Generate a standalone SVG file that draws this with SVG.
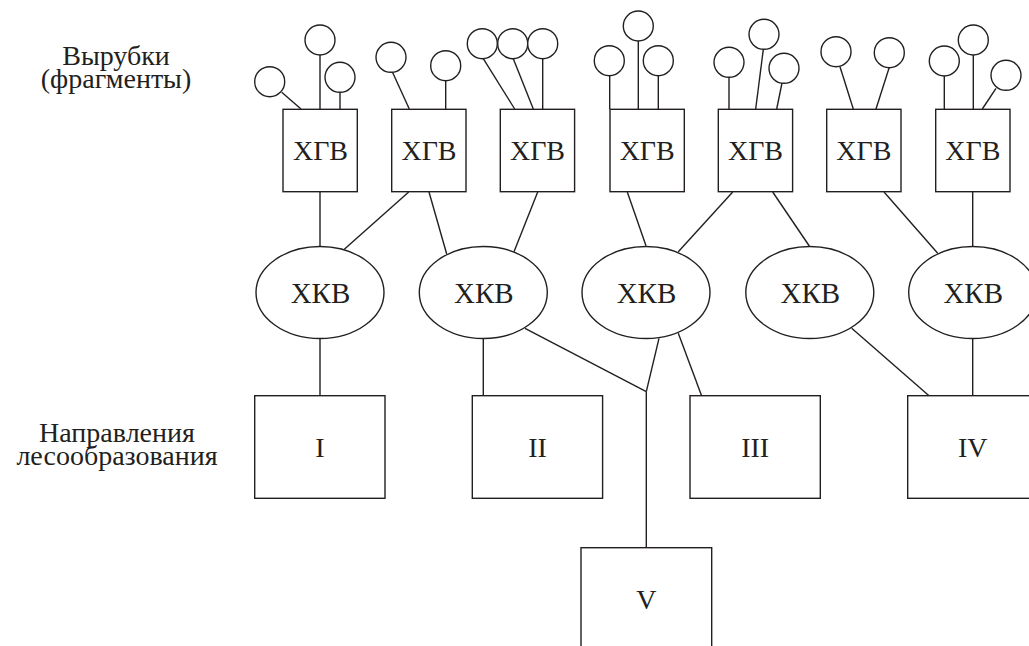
<svg xmlns="http://www.w3.org/2000/svg" width="1029" height="646" viewBox="0 0 1029 646">
<style>
.s{fill:#fff;stroke:#231f20;stroke-width:1.4}
.c line{stroke:#231f20;stroke-width:1.4}
text{font-family:"Liberation Serif","Times New Roman","DejaVu Serif",serif;fill:#231f20;text-anchor:middle}
.t{font-size:28px}
.k{font-size:29px}
.r{font-size:28px}
.l{font-size:28px}
</style>
<rect width="1029" height="646" fill="#fff"/>
<g class="c" id="connectors">
<line x1="281.7" y1="92.3" x2="301" y2="109"/>
<line x1="320" y1="55" x2="320" y2="109"/>
<line x1="340" y1="92.3" x2="340" y2="109"/>
<line x1="392.3" y1="71.7" x2="409.3" y2="109"/>
<line x1="445.7" y1="80.7" x2="445.7" y2="109"/>
<line x1="483.3" y1="58.7" x2="514.7" y2="109"/>
<line x1="513.3" y1="58.7" x2="533.3" y2="109"/>
<line x1="542.7" y1="58.7" x2="542.7" y2="109"/>
<line x1="609.7" y1="75.7" x2="609.7" y2="109"/>
<line x1="638.3" y1="41" x2="638.3" y2="109"/>
<line x1="658.3" y1="75.7" x2="658.3" y2="109"/>
<line x1="729" y1="77.3" x2="729" y2="109"/>
<line x1="763.3" y1="49.3" x2="755.7" y2="109"/>
<line x1="782" y1="83" x2="776.7" y2="109"/>
<line x1="840" y1="66.7" x2="853.3" y2="109"/>
<line x1="889.3" y1="67.3" x2="876" y2="109"/>
<line x1="944.3" y1="76" x2="944.3" y2="109"/>
<line x1="973.3" y1="55" x2="973.3" y2="109"/>
<line x1="996" y1="88.3" x2="982.3" y2="109"/>
<line x1="320" y1="192" x2="320" y2="246.7"/>
<line x1="408.7" y1="192" x2="344.3" y2="249.3"/>
<line x1="429" y1="192" x2="446.7" y2="254"/>
<line x1="537.7" y1="192" x2="514" y2="251.7"/>
<line x1="627.3" y1="192" x2="646" y2="245.7"/>
<line x1="732.7" y1="192" x2="678.3" y2="251.7"/>
<line x1="772.7" y1="192" x2="809.3" y2="246"/>
<line x1="884" y1="192" x2="937.7" y2="253.3"/>
<line x1="972.7" y1="192" x2="972.7" y2="246.7"/>
<line x1="320" y1="338.3" x2="320" y2="396"/>
<line x1="483.3" y1="338.3" x2="483.3" y2="396"/>
<line x1="525" y1="328.3" x2="646.3" y2="391.7"/>
<line x1="659" y1="338.3" x2="646.3" y2="391.7"/>
<line x1="646.3" y1="391.7" x2="646.3" y2="547.7"/>
<line x1="678.3" y1="333.3" x2="701.7" y2="396"/>
<line x1="851.7" y1="328.3" x2="929.3" y2="396"/>
<line x1="972.7" y1="338.3" x2="972.7" y2="396"/>
</g>
<g id="fragments" class="s">
<circle cx="269.7" cy="81.7" r="15"/>
<circle cx="320" cy="40" r="15"/>
<circle cx="340" cy="77.3" r="15"/>
<circle cx="391" cy="57.3" r="15"/>
<circle cx="445.7" cy="65.7" r="15"/>
<circle cx="482.3" cy="43.7" r="15"/>
<circle cx="512.7" cy="43.7" r="15"/>
<circle cx="542.7" cy="43.7" r="15"/>
<circle cx="609.3" cy="60.7" r="15"/>
<circle cx="638.3" cy="26" r="15"/>
<circle cx="658.3" cy="60.7" r="15"/>
<circle cx="729" cy="62.3" r="15"/>
<circle cx="764" cy="34.3" r="15"/>
<circle cx="784" cy="68.3" r="15"/>
<circle cx="836" cy="51.7" r="15"/>
<circle cx="889.3" cy="52.7" r="15"/>
<circle cx="944.3" cy="61" r="15"/>
<circle cx="973.3" cy="40" r="15"/>
<circle cx="1006" cy="75.3" r="15"/>
</g>
<g id="xgv1"><rect class="s" x="283" y="109.3" width="74.3" height="82.4"/><text class="t" x="320.5" y="160">ХГВ</text></g>
<g id="xgv2"><rect class="s" x="391.7" y="109.3" width="74.3" height="82.4"/><text class="t" x="429" y="160">ХГВ</text></g>
<g id="xgv3"><rect class="s" x="500.3" y="109.3" width="74.3" height="82.4"/><text class="t" x="537.5" y="160">ХГВ</text></g>
<g id="xgv4"><rect class="s" x="610" y="109.3" width="74.3" height="82.4"/><text class="t" x="647.2" y="160">ХГВ</text></g>
<g id="xgv5"><rect class="s" x="718.3" y="109.3" width="74.3" height="82.4"/><text class="t" x="755.5" y="160">ХГВ</text></g>
<g id="xgv6"><rect class="s" x="826.7" y="109.3" width="74.3" height="82.4"/><text class="t" x="863.8" y="160">ХГВ</text></g>
<g id="xgv7"><rect class="s" x="935.7" y="109.3" width="74.3" height="82.4"/><text class="t" x="972.8" y="160">ХГВ</text></g>
<g id="xkv1"><ellipse class="s" cx="320" cy="292.5" rx="64" ry="46"/><text class="k" x="320.5" y="302.5">ХКВ</text></g>
<g id="xkv2"><ellipse class="s" cx="483.3" cy="292.5" rx="64" ry="46"/><text class="k" x="483.8" y="302.5">ХКВ</text></g>
<g id="xkv3"><ellipse class="s" cx="646" cy="292.5" rx="64" ry="46"/><text class="k" x="646.5" y="302.5">ХКВ</text></g>
<g id="xkv4"><ellipse class="s" cx="809.8" cy="292.5" rx="64" ry="46"/><text class="k" x="810.3" y="302.5">ХКВ</text></g>
<g id="xkv5"><ellipse class="s" cx="972.7" cy="292.5" rx="64" ry="46"/><text class="k" x="973.2" y="302.5">ХКВ</text></g>
<g id="dirI"><rect class="s" x="254.7" y="395.7" width="130.3" height="102.6"/><text class="r" x="320" y="457.3">I</text></g>
<g id="dirII"><rect class="s" x="472.3" y="395.7" width="130.3" height="102.6"/><text class="r" x="537.5" y="457.3">II</text></g>
<g id="dirIII"><rect class="s" x="690" y="395.7" width="130.3" height="102.6"/><text class="r" x="755.2" y="457.3">III</text></g>
<g id="dirIV"><rect class="s" x="907.7" y="395.7" width="130.3" height="102.6"/><text class="r" x="972.8" y="457.3">IV</text></g>
<g id="dirV"><rect class="s" x="581" y="547.7" width="130.7" height="102.6"/><text class="r" x="646.3" y="609">V</text></g>
<g id="label-fragments"><text class="l" x="116" y="65">Вырубки</text><text class="l" x="116" y="88.3">(фрагменты)</text></g>
<g id="label-directions"><text class="l" x="117" y="441.7">Направления</text><text class="l" x="117" y="465">лесообразования</text></g>
</svg>
